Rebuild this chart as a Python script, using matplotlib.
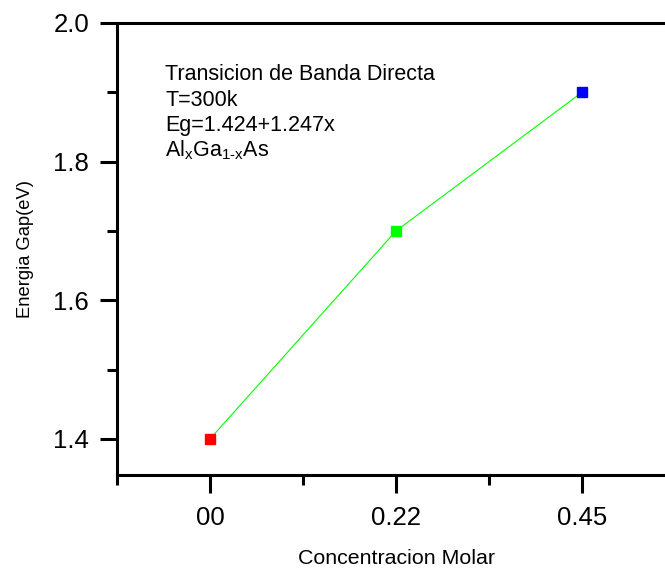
import numpy as np
import matplotlib.pyplot as plt
from matplotlib.ticker import FixedLocator

plt.rcParams['font.family'] = ['Liberation Sans', 'DejaVu Sans']
plt.rcParams['mathtext.fontset'] = 'custom'
plt.rcParams['mathtext.rm'] = 'Liberation Sans'
plt.rcParams['mathtext.it'] = 'Liberation Sans'

# concentracion molar x y energia del gap
etiquetas = ['00', '0.22', '0.45']
energia = [1.4, 1.7, 1.9]
colores = ['red', 'lime', 'blue']

pos = np.arange(len(etiquetas))

fig = plt.figure(figsize=(6.65, 5.69), dpi=100)
ax = fig.add_axes([117/665, 1 - 475/569, 558/665, 452/569])

ax.plot(pos, energia, color='lime', linewidth=0.8, zorder=2)
for xi, yi, c in zip(pos, energia, colores):
    ax.plot(xi, yi, 's', color=c, markersize=6.5, zorder=3)

ax.set_xlim(-0.5, 2.5)
ax.set_ylim(1.348, 2.0)

ax.xaxis.set_major_locator(FixedLocator(pos))
ax.set_xticklabels(etiquetas)
ax.xaxis.set_minor_locator(FixedLocator([-0.5, 0.5, 1.5, 2.5]))
ax.yaxis.set_major_locator(FixedLocator([1.4, 1.6, 1.8, 2.0]))
ax.yaxis.set_minor_locator(FixedLocator([1.5, 1.7, 1.9]))
ax.set_yticklabels(['1.4', '1.6', '1.8', '2.0'])

for s in ['left', 'bottom', 'top']:
    ax.spines[s].set_linewidth(2.2)
ax.spines['right'].set_visible(False)

ax.tick_params(which='major', direction='out', length=12, width=2.2, labelsize=18.5, pad=8)
ax.tick_params(which='minor', direction='out', length=7, width=2.2)
ax.tick_params(axis='x', which='major', length=13, pad=9)

fig.text(396/665, 1 - 564/569, 'Concentracion Molar', fontsize=15.4,
         ha='center', va='baseline')
fig.text(26/665, 1 - 249/569, 'Energia Gap(eV)', fontsize=13.2, rotation=90,
         ha='center', va='center')

lineas = ['Transicion de Banda Directa', 'T=300k', 'Eg=1.424+1.247x',
          r'$\mathregular{Al_xGa_{1\text{-}x}As}$']
for i, t in enumerate(lineas):
    fig.text(165/665, 1 - (80 + 25.6*i)/569, t, fontsize=15.5, ha='left', va='baseline')

fig.savefig('out.png', dpi=100)
